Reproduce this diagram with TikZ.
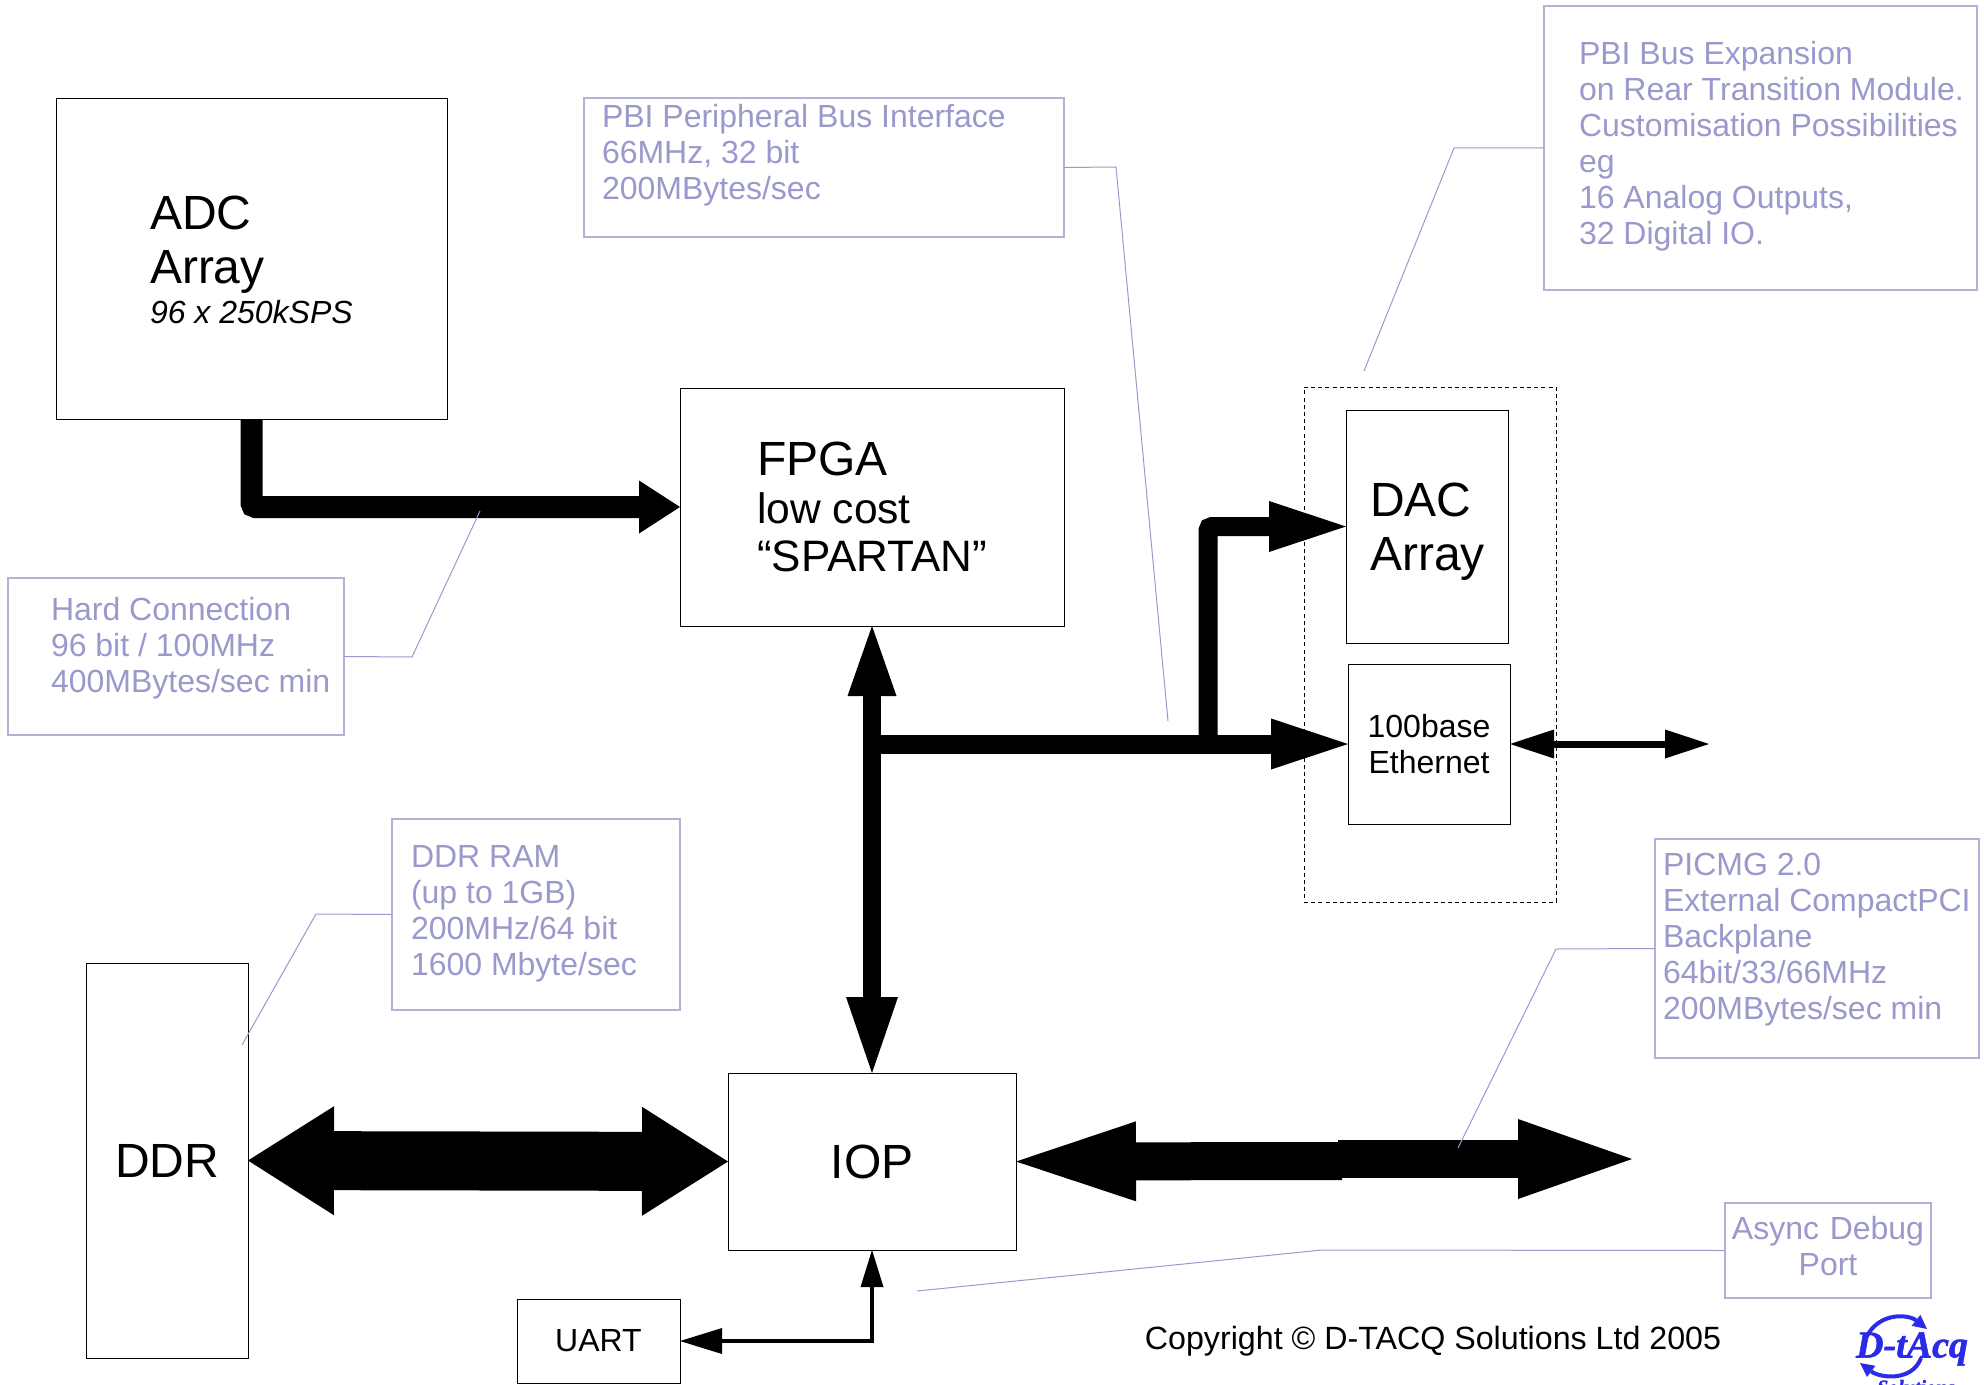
\documentclass[tikz,border=0pt]{standalone}
\usepackage{fontspec}
\setmainfont{Liberation Sans}
\newfontfamily\logofont[BoldItalicFeatures={FakeBold=1.5}]{Liberation Serif}
\usetikzlibrary{arrows.meta}
\definecolor{notecolor}{HTML}{9999CC}
\definecolor{logocolor}{HTML}{2A2AE8}
\tikzset{
  Wedge/.tip={Triangle[line width=0pt]},
  boxsize/.style n args={2}{minimum width=#1,minimum height=#2,text width=#1},
  indent/.style={execute at begin node={\leftskip=#1\relax}},
  lift/.style={execute at end node={\par\vspace*{#1}}},
  blockbox/.style={draw=black,line width=.45pt,inner sep=0pt,outer sep=0pt,align=flush left,
    font=\fontsize{24}{27}\selectfont},
  notebox/.style={draw=notecolor!75,text=notecolor,line width=.6pt,inner sep=0pt,outer sep=0pt,align=flush left,
    font=\fontsize{16}{18}\selectfont},
  leader/.style={draw=notecolor,line width=.5pt},
  fatbus/.style={line width=#1,rounded corners=2pt},
}
\begin{document}
\begin{tikzpicture}[x=.5pt,y=-.5pt]
      \useasboundingbox (0,0) rectangle (1984,1385);
      %% Blocks
      \node[blockbox,boxsize={195.5pt}{160.5pt},indent=47pt,lift=-1pt] (adc) at (251.5,258.5)
        {ADC\\Array\\[-7pt]{\fontsize{16}{18}\selectfont\itshape 96 x 250kSPS}};
      \node[blockbox,boxsize={192pt}{119pt},indent=38.5pt] (fpga) at (872,507)
        {FPGA\\[-3pt]{\fontsize{21.3}{24}\selectfont low cost}\\[-3pt]{\fontsize{22}{24}\selectfont “SPARTAN”}};
      \node[blockbox,boxsize={144pt}{88.5pt},align=center,below of=fpga,yshift=-298.8pt] (iop) {IOP};
      \node[blockbox,boxsize={81pt}{116.5pt},indent=12pt,lift=-5pt] (dac) at (1427,526.5) {DAC\\Array};
      \node[blockbox,boxsize={81pt}{80pt},align=center,font=\fontsize{16}{18.3}\selectfont] (eth) at (1429,744) {100base\\Ethernet};
      \node[blockbox,boxsize={126pt}{257.5pt},dash pattern=on 2pt off 1.6pt] (rear) at (1430,644.5) {};
      \node[blockbox,boxsize={81pt}{197.5pt},align=center] (ddr) at (167,1160.5) {DDR};
      \node[blockbox,boxsize={81.5pt}{42pt},align=center,font=\fontsize{16}{18}\selectfont] (uart) at (598.5,1341) {UART};
      %% Notes
      \node[notebox,boxsize={240pt}{69.5pt},indent=9pt,lift=-2.5pt] (pbinote) at (824,167.5)
        {PBI Peripheral Bus Interface\\66MHz, 32 bit\\200MBytes/sec\\\mbox{}};
      \node[notebox,boxsize={216.5pt}{142pt},indent=17.5pt,lift=1.5pt] (rearnote) at (1760.5,148)
        {PBI Bus Expansion\\on Rear Transition Module.\\Customisation Possibilities\\eg\\16 Analog Outputs,\\32 Digital IO.};
      \node[notebox,boxsize={168pt}{78.5pt},indent=21.5pt,lift=8.2pt] (hardnote) at (176,656.5)
        {Hard Connection\\96 bit / 100MHz\\400MBytes/sec min};
      \node[notebox,boxsize={144pt}{95.5pt},indent=9.5pt,lift=0.3pt] (ddrnote) at (536,914.5)
        {DDR RAM\\(up to 1GB)\\200MHz/64 bit\\1600 Mbyte/sec};
      \node[notebox,boxsize={162pt}{109.5pt},indent=4pt,lift=8.5pt] (cpcinote) at (1817,948.5)
        {PICMG 2.0\\External CompactPCI\\Backplane\\64bit/33/66MHz\\200MBytes/sec min};
      \node[notebox,boxsize={103pt}{47.5pt},align=center,lift=4.8pt] (asyncnote) at (1828,1250.5) {Async Debug\\Port};
      %% Free ends
      \coordinate (tee) at (fpga.south |- eth.west);
      \coordinate (branch) at (1208,744);
      \coordinate (ethend) at (1709,744);
      \coordinate (cpcimida) at (1342,1161);
      \coordinate (cpcimidb) at (1338,1159);
      \coordinate (cpciend) at (1632,1159);
      %% Black buses
      \draw[fatbus=11pt,-{Wedge[length=20.5pt,width=26.5pt]}] (adc.south) |- (fpga.west);
      \draw[fatbus=9pt,{Wedge[length=35pt,width=24.5pt]}-{Wedge[length=38pt,width=26pt]}] (fpga.south) -- (iop.north);
      \draw[fatbus=9.5pt,-{Wedge[length=38.5pt,width=25.5pt]}] (tee) -- (eth.west);
      \draw[fatbus=9.5pt,-{Wedge[length=38.5pt,width=25.5pt]}] (branch) |- (dac.west);
      \draw[line width=3.5pt,{Wedge[length=22pt,width=14.5pt]}-{Wedge[length=22pt,width=14.5pt]}] (eth.east) -- (ethend);
      \draw[fatbus=29.5pt,{Wedge[length=43pt,width=54.5pt]}-{Wedge[length=43pt,width=54.5pt]}] (ddr.east) -- (iop.west);
      \draw[line width=19pt,{Wedge[length=60pt,width=40pt]}-] (iop.east) -- (cpcimida);
      \draw[line width=19pt,-{Wedge[length=57pt,width=40pt]}] (cpcimidb) -- (cpciend);
      \draw[line width=2pt,{Wedge[length=21pt,width=13pt]}-{Wedge[length=18.5pt,width=11.5pt]}] (uart.east) -| (iop.south);
      %% Leaders
      \coordinate (pbiend) at (1168,721);
      \coordinate (rearend) at (1364,371);
      \coordinate (hardend) at (480,511);
      \coordinate (ddrend) at (242,1045);
      \coordinate (cpciptr) at (1458,1148);
      \coordinate (asyncend) at (917,1291);
      \draw[leader] (pbinote.east) -- (1116,167) -- (pbiend);
      \draw[leader] (rearnote.west) -- (1454,148) -- (rearend);
      \draw[leader] (hardnote.east) -- (412,657) -- (hardend);
      \draw[leader] (ddrnote.west) -- (316,914) -- (ddrend);
      \draw[leader] (cpcinote.west) -- (1556,949) -- (cpciptr);
      \draw[leader] (asyncnote.west) -- (1322,1250) -- (asyncend);
      %% Copyright and logo
      \node[font=\fontsize{16.1}{18}\selectfont] (copy) at (1433,1341) {Copyright © D-TACQ Solutions Ltd 2005};
      \node[text=logocolor,font=\logofont\fontsize{19}{20}\selectfont\bfseries\itshape] (logo) at (1912,1349) {D-tAcq};
      \node[text=logocolor,font=\logofont\fontsize{10}{11}\selectfont\bfseries\itshape] (logotag) at (1916,1387) {Solutions};
      \draw[logocolor,line width=2pt,-{Wedge[length=7pt,width=7pt]}] (1866,1338) .. controls (1878,1312) and (1908,1314) .. (1927,1329);
      \draw[logocolor,line width=2pt,-{Wedge[length=7pt,width=7pt]}] (1921,1358) .. controls (1912,1382) and (1880,1378) .. (1860,1363);
    \end{tikzpicture}
\end{document}
